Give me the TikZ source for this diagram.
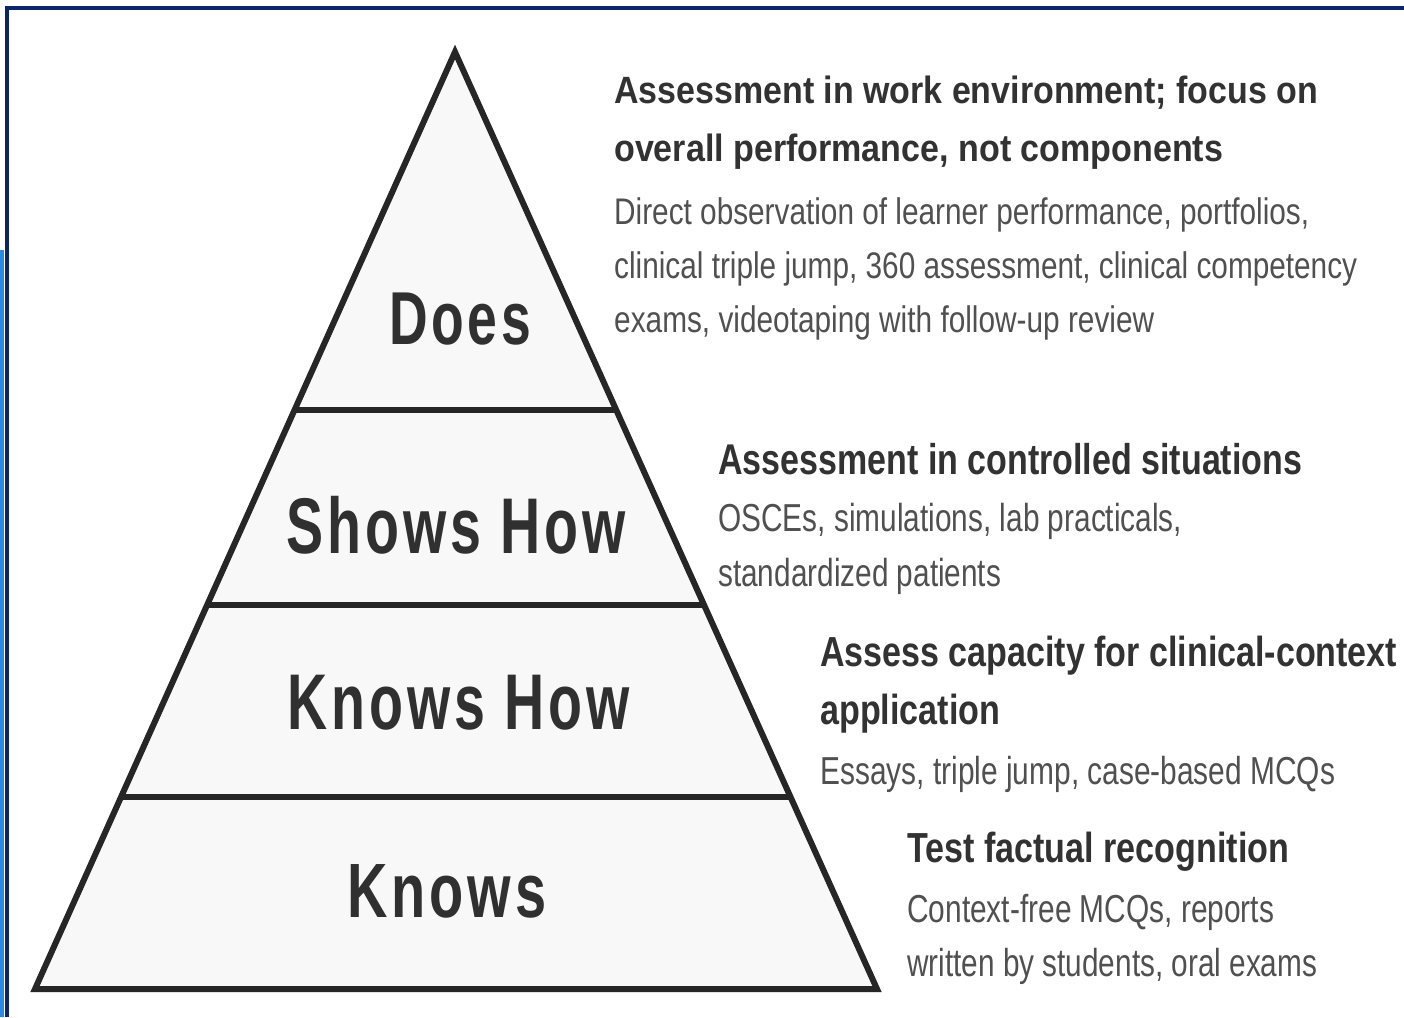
\documentclass[tikz,border=0pt]{standalone}
\usepackage{fontspec}
\usepackage{graphicx}
\setmainfont{Liberation Sans}
\newfontfamily\labfont[LetterSpace=7]{Liberation Sans}
\definecolor{navy}{RGB}{12,36,104}
\definecolor{edgeblue}{RGB}{40,140,230}
\definecolor{pyrline}{RGB}{38,38,38}
\definecolor{pyrfill}{RGB}{248,248,248}
\definecolor{labcol}{RGB}{48,48,48}
\definecolor{headcol}{RGB}{50,50,50}
\definecolor{bodycol}{RGB}{80,80,80}
\newcommand\fitline[3]{\fontsize{#1}{#1}\selectfont\resizebox{#2pt}{\height}{#3}}
\tikzset{
  pyr/.style={draw=pyrline, line width=6pt, line join=miter, miter limit=20},
  lab/.style={anchor=base, inner sep=0pt, text=labcol, font=\labfont\bfseries},
  head/.style={anchor=base west, inner sep=0pt, text=headcol, font=\bfseries},
  body/.style={anchor=base west, inner sep=0pt, text=bodycol},
}
\begin{document}
\begin{tikzpicture}[x=1pt,y=-1pt]
\useasboundingbox (0,0) rectangle (1404,1017);
\fill[white] (0,0) rectangle (1404,1017);
% left blue edge and navy frame
\fill[edgeblue] (0,250) rectangle (4,1017);
\draw[navy, line width=3.5pt] (7,1017) -- (7,8) -- (1404,8);
% pyramid
\coordinate (apex) at (455,52);
\coordinate (bl) at (35,989);
\coordinate (br) at (877,989);
\fill[pyrfill] (apex) -- (br) -- (bl) -- cycle;
\coordinate (l1) at (294.5,410); \coordinate (r1) at (616.2,410);
\coordinate (l2) at (207.1,605); \coordinate (r2) at (704,605);
\coordinate (l3) at (121.1,797); \coordinate (r3) at (790.5,797);
\draw[pyr, line cap=butt] (l1) -- (r1);
\draw[pyr, line cap=butt] (l2) -- (r2);
\draw[pyr, line cap=butt] (l3) -- (r3);
\draw[pyr] (apex) -- (br) -- (bl) -- cycle;
% level labels
\node[lab] (does) at (460,344) {\fitline{75}{142}{Does}};
\node[lab] (shows) at (456,553) {\fitline{79}{339}{Shows How}};
\node[lab] (knowshow) at (459,729) {\fitline{79}{342}{Knows How}};
\node[lab] (knows) at (447,917) {\fitline{77}{199}{Knows}};
% block 1
\node[head] (h1a) at (614,103) {\fitline{38}{704}{Assessment in work environment; focus on}};
\node[head] (h1b) at (614,161) {\fitline{38}{609}{overall performance, not components}};
\node[body] (b1a) at (614,224) {\fitline{37}{695}{Direct observation of learner performance, portfolios,}};
\node[body] (b1b) at (614,278) {\fitline{37}{743}{clinical triple jump, 360 assessment, clinical competency}};
\node[body] (b1c) at (614,332) {\fitline{37}{540}{exams, videotaping with follow-up review}};
% block 2
\node[head] (h2) at (718,474) {\fitline{43}{584}{Assessment in controlled situations}};
\node[body] (b2a) at (718,531) {\fitline{39}{464}{OSCEs, simulations, lab practicals,}};
\node[body] (b2b) at (718,586) {\fitline{39}{283}{standardized patients}};
% block 3
\node[head] (h3a) at (820,666) {\fitline{42}{577}{Assess capacity for clinical-context}};
\node[head] (h3b) at (820,724) {\fitline{42}{180}{application}};
\node[body] (b3) at (820,784) {\fitline{39}{515}{Essays, triple jump, case-based MCQs}};
% block 4
\node[head] (h4) at (907,862) {\fitline{42}{382}{Test factual recognition}};
\node[body] (b4a) at (907,922) {\fitline{39}{367}{Context-free MCQs, reports}};
\node[body] (b4b) at (907,976) {\fitline{39}{410}{written by students, oral exams}};
\end{tikzpicture}
\end{document}
